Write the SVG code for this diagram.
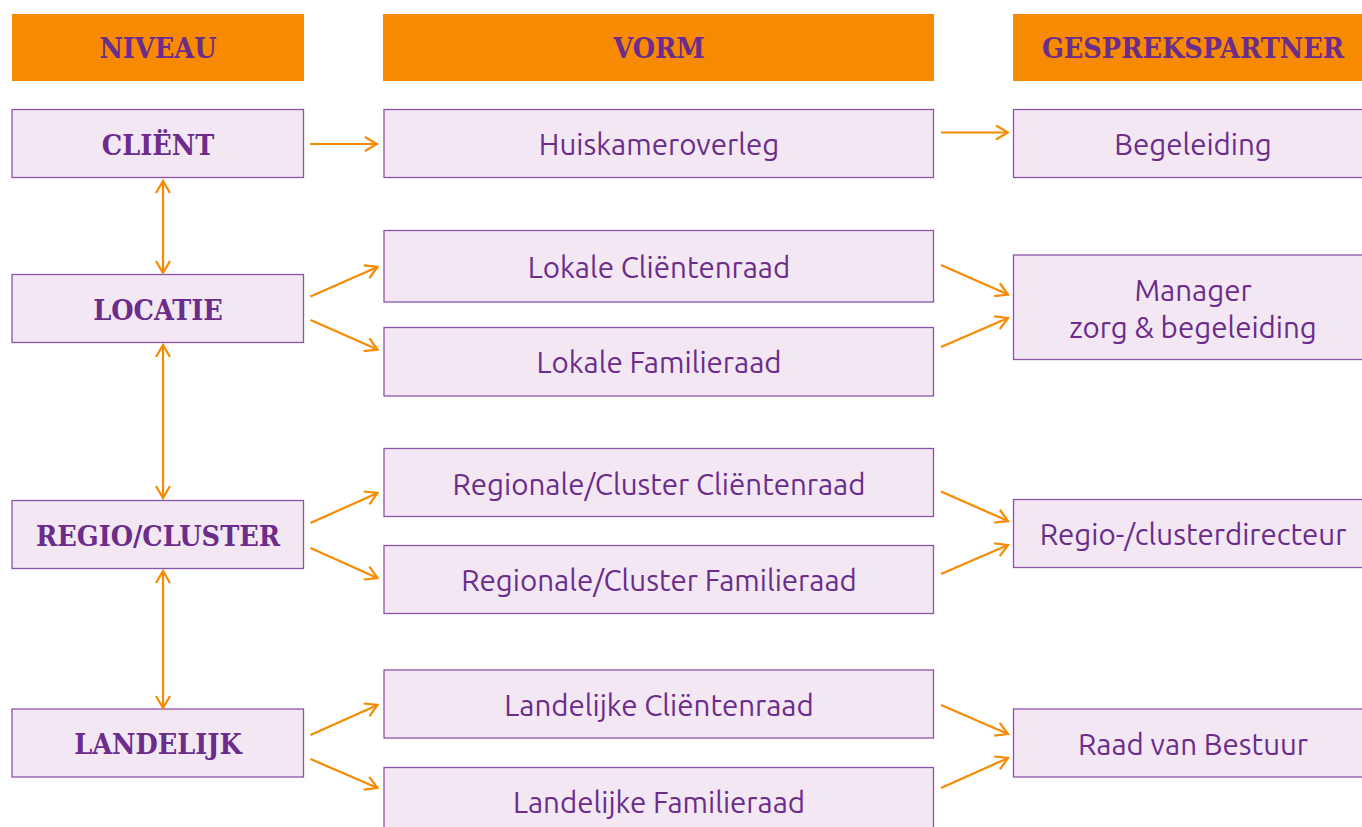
<svg xmlns="http://www.w3.org/2000/svg" width="1362" height="827" viewBox="0 0 1362 827">
<defs>
<style>
.hdr{fill:#F78A00}
.box{fill:#F2E7F2;stroke:#8D55A8;stroke-width:1.3}
.slab{font-family:"DejaVu Serif Condensed","DejaVu Serif","Liberation Serif",serif;font-stretch:condensed;font-weight:bold;font-size:28.5px;fill:#6B2C8C;text-anchor:middle}
.txt{font-family:"Ubuntu","Open Sans","Noto Sans",sans-serif;font-size:29.5px;fill:#6B2C8C;text-anchor:middle}
.con{stroke:#F78A00;stroke-width:2.2;fill:none}
</style>
<marker id="ah" viewBox="0 0 16 16" markerWidth="16" markerHeight="16" refX="14" refY="8" orient="auto-start-reverse" markerUnits="userSpaceOnUse">
<path d="M2,1 L14,8 L2,15" fill="none" stroke="#F78A00" stroke-width="2.2"/>
</marker>
</defs>
<rect width="1362" height="827" fill="#fff"/>

<g id="h-niveau"><rect class="hdr" x="12" y="14" width="292" height="67"/><text class="slab" x="158" y="58">NIVEAU</text></g>
<g id="h-vorm"><rect class="hdr" x="383" y="14" width="551" height="67"/><text class="slab" x="659" y="58">VORM</text></g>
<g id="h-gesprek"><rect class="hdr" x="1013" y="14" width="360" height="67"/><text class="slab" x="1193" y="58">GESPREKSPARTNER</text></g>

<g id="n-client"><rect class="box" x="12" y="109.5" width="291.5" height="68"/><text class="slab" x="158" y="155">CLIËNT</text></g>
<g id="n-locatie"><rect class="box" x="12" y="274.5" width="291.5" height="68"/><text class="slab" x="158" y="320">LOCATIE</text></g>
<g id="n-regio"><rect class="box" x="12" y="500.5" width="291.5" height="68"/><text class="slab" x="158" y="546">REGIO/CLUSTER</text></g>
<g id="n-landelijk"><rect class="box" x="12" y="709" width="291.5" height="68"/><text class="slab" x="158" y="754">LANDELIJK</text></g>

<g id="n-huiskamer"><rect class="box" x="384" y="109.5" width="549.5" height="68"/><text class="txt" x="659" y="155">Huiskameroverleg</text></g>
<g id="n-lokale-cr"><rect class="box" x="384" y="230.5" width="549.5" height="71.5"/><text class="txt" x="659" y="278">Lokale Cliëntenraad</text></g>
<g id="n-lokale-fr"><rect class="box" x="384" y="327.5" width="549.5" height="68.5"/><text class="txt" x="659" y="373">Lokale Familieraad</text></g>
<g id="n-regio-cr"><rect class="box" x="384" y="448.5" width="549.5" height="68"/><text class="txt" x="659" y="495">Regionale/Cluster Cliëntenraad</text></g>
<g id="n-regio-fr"><rect class="box" x="384" y="545.5" width="549.5" height="68"/><text class="txt" x="659" y="591">Regionale/Cluster Familieraad</text></g>
<g id="n-land-cr"><rect class="box" x="384" y="670" width="549.5" height="68"/><text class="txt" x="659" y="716">Landelijke Cliëntenraad</text></g>
<g id="n-land-fr"><rect class="box" x="384" y="767.5" width="549.5" height="70"/><text class="txt" x="659" y="813">Landelijke Familieraad</text></g>

<g id="n-begeleiding"><rect class="box" x="1013.5" y="109.5" width="360" height="68"/><text class="txt" x="1193" y="155">Begeleiding</text></g>
<g id="n-manager"><rect class="box" x="1013.5" y="255" width="360" height="104.5"/><text class="txt" x="1193" y="301">Manager</text><text class="txt" x="1193" y="338">zorg &amp; begeleiding</text></g>
<g id="n-directeur"><rect class="box" x="1013.5" y="499.5" width="360" height="68"/><text class="txt" x="1193" y="545">Regio-/clusterdirecteur</text></g>
<g id="n-rvb"><rect class="box" x="1013.5" y="709" width="360" height="68"/><text class="txt" x="1193" y="755">Raad van Bestuur</text></g>

<g id="connectors">
<line class="con" x1="310" y1="144" x2="377" y2="144" marker-end="url(#ah)"/>
<line class="con" x1="941" y1="132.5" x2="1008" y2="132.5" marker-end="url(#ah)"/>
<line class="con" x1="163" y1="181" x2="163" y2="273" marker-start="url(#ah)" marker-end="url(#ah)"/>
<line class="con" x1="163" y1="345" x2="163" y2="498" marker-start="url(#ah)" marker-end="url(#ah)"/>
<line class="con" x1="163" y1="571" x2="163" y2="708" marker-start="url(#ah)" marker-end="url(#ah)"/>
<line class="con" x1="310.5" y1="296.5" x2="377.5" y2="267" marker-end="url(#ah)"/>
<line class="con" x1="310.5" y1="320" x2="377.5" y2="349.5" marker-end="url(#ah)"/>
<line class="con" x1="941" y1="265" x2="1008" y2="294.5" marker-end="url(#ah)"/>
<line class="con" x1="941" y1="347" x2="1008" y2="318" marker-end="url(#ah)"/>
<line class="con" x1="310.5" y1="523" x2="377.5" y2="493" marker-end="url(#ah)"/>
<line class="con" x1="310.5" y1="548" x2="377.5" y2="578" marker-end="url(#ah)"/>
<line class="con" x1="941" y1="491.5" x2="1008" y2="521" marker-end="url(#ah)"/>
<line class="con" x1="941" y1="574" x2="1008" y2="545" marker-end="url(#ah)"/>
<line class="con" x1="310.5" y1="735" x2="377.5" y2="705" marker-end="url(#ah)"/>
<line class="con" x1="310.5" y1="759" x2="377.5" y2="788" marker-end="url(#ah)"/>
<line class="con" x1="941" y1="705" x2="1008" y2="734" marker-end="url(#ah)"/>
<line class="con" x1="941" y1="788" x2="1008" y2="758" marker-end="url(#ah)"/>
</g>
</svg>
